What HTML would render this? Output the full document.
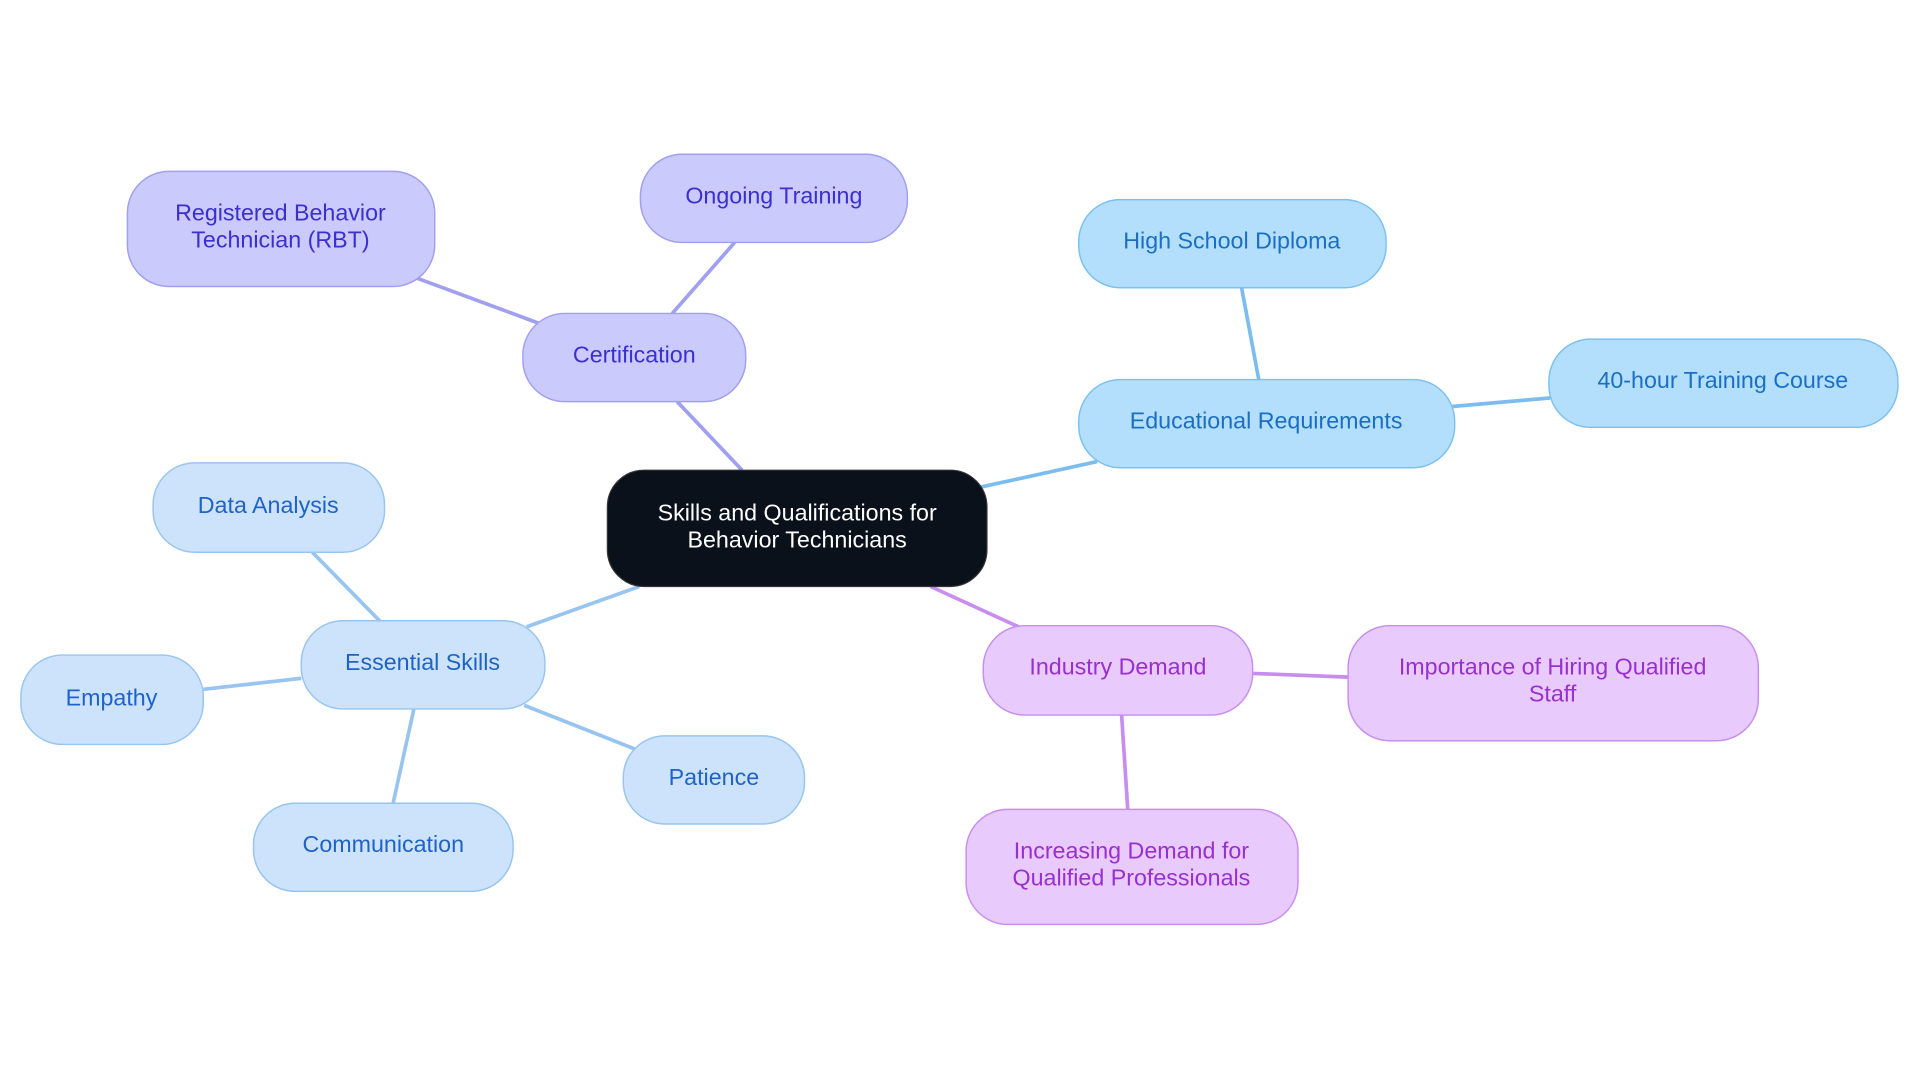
<!DOCTYPE html>
<html><head><meta charset="utf-8"><style>
html,body{margin:0;padding:0;background:#fff;width:1920px;height:1083px;overflow:hidden}
svg{display:block}
text{font-family:"Liberation Sans",sans-serif;font-size:19px;text-anchor:middle;dominant-baseline:middle}
</style></head><body>
<svg width="1920" height="1083" viewBox="0 0 1568 884.5" xmlns="http://www.w3.org/2000/svg">
<g stroke-width="3" fill="none">
<line x1="606" y1="384" x2="553" y2="328" stroke="#a09ff0"/>
<line x1="549" y1="256" x2="600" y2="198" stroke="#a09ff0"/>
<line x1="440" y1="264" x2="340" y2="227" stroke="#a09ff0"/>
<line x1="800" y1="398" x2="896" y2="377" stroke="#7cbdf0"/>
<line x1="1028" y1="310" x2="1014" y2="235" stroke="#7cbdf0"/>
<line x1="1186" y1="332" x2="1266" y2="325" stroke="#7cbdf0"/>
<line x1="522" y1="479" x2="430" y2="512" stroke="#98c5f0"/>
<line x1="310" y1="507" x2="255" y2="451" stroke="#98c5f0"/>
<line x1="246" y1="554" x2="166" y2="563" stroke="#98c5f0"/>
<line x1="338" y1="579" x2="321" y2="656" stroke="#98c5f0"/>
<line x1="428" y1="576" x2="519" y2="612" stroke="#98c5f0"/>
<line x1="760" y1="479" x2="832" y2="512" stroke="#c78ef0"/>
<line x1="1023" y1="550" x2="1101" y2="553" stroke="#c78ef0"/>
<line x1="916" y1="584" x2="921" y2="661" stroke="#c78ef0"/>
</g>
<rect x="496" y="384" width="310" height="95" rx="30" fill="#0b111b" stroke="#333" stroke-width="1"/>
<text x="651" y="420" fill="#fff">Skills and Qualifications for</text>
<text x="651" y="442" fill="#fff">Behavior Technicians</text>
<g fill="#cbcafc" stroke="#a09ff0" stroke-width="1.2">
<rect x="427" y="256" width="182" height="72" rx="34"/>
<rect x="523" y="126" width="218" height="72" rx="34"/>
<rect x="104" y="140" width="251" height="94" rx="34"/>
</g>
<g fill="#3b2fd0">
<text x="518" y="291">Certification</text>
<text x="632" y="161">Ongoing Training</text>
<text x="229" y="175">Registered Behavior</text>
<text x="229" y="197">Technician (RBT)</text>
</g>
<g fill="#b3dffc" stroke="#7cc0f0" stroke-width="1.2">
<rect x="881" y="310" width="307" height="72" rx="34"/>
<rect x="881" y="163" width="251" height="72" rx="34"/>
<rect x="1265" y="277" width="285" height="72" rx="34"/>
</g>
<g fill="#1a6fc4">
<text x="1034" y="345">Educational Requirements</text>
<text x="1006" y="198">High School Diploma</text>
<text x="1407" y="312">40-hour Training Course</text>
</g>
<g fill="#cde3fb" stroke="#98c5f0" stroke-width="1.2">
<rect x="246" y="507" width="199" height="72" rx="34"/>
<rect x="125" y="378" width="189" height="73" rx="34"/>
<rect x="17" y="535" width="149" height="73" rx="34"/>
<rect x="207" y="656" width="212" height="72" rx="34"/>
<rect x="509" y="601" width="148" height="72" rx="34"/>
</g>
<g fill="#1f63c8">
<text x="345" y="542">Essential Skills</text>
<text x="219" y="414">Data Analysis</text>
<text x="91" y="571">Empathy</text>
<text x="313" y="691">Communication</text>
<text x="583" y="636">Patience</text>
</g>
<g fill="#e8cafc" stroke="#c78ef0" stroke-width="1.2">
<rect x="803" y="511" width="220" height="73" rx="34"/>
<rect x="1101" y="511" width="335" height="94" rx="34"/>
<rect x="789" y="661" width="271" height="94" rx="34"/>
</g>
<g fill="#9a2fd0">
<text x="913" y="546">Industry Demand</text>
<text x="1268" y="546">Importance of Hiring Qualified</text>
<text x="1268" y="568">Staff</text>
<text x="924" y="696">Increasing Demand for</text>
<text x="924" y="718">Qualified Professionals</text>
</g>
</svg>
</body></html>
